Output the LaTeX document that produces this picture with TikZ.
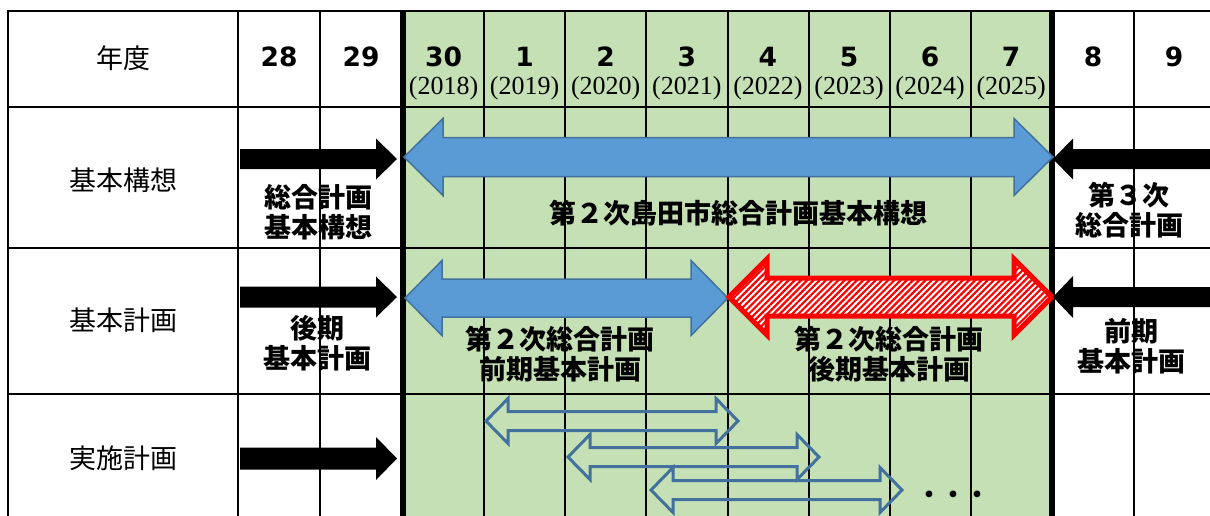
\documentclass[tikz,border=0pt]{standalone}
\usepackage{fontspec}
\newfontfamily\cjk{Noto Sans CJK JP}
\newfontfamily\numf{DejaVu Sans}
\newfontfamily\yrf{Liberation Serif}
\usetikzlibrary{patterns.meta}
\definecolor{cellgreen}{HTML}{C5E0B4}
\definecolor{arrblue}{HTML}{5B9BD5}
\definecolor{arredge}{HTML}{41719C}
% #1 style, #2 x start, #3 x tip, #4 y centre, #5 shaft half, #6 head half, #7 head length (signed)
\newcommand\OneArrow[7]{%
  \path[#1] ({#2},{#4-(#5)}) -- ({#3-(#7)},{#4-(#5)}) -- ({#3-(#7)},{#4-(#6)}) -- ({#3},{#4})
    -- ({#3-(#7)},{#4+(#6)}) -- ({#3-(#7)},{#4+(#5)}) -- ({#2},{#4+(#5)}) -- cycle;}
% #1 style, #2 left tip, #3 right tip, #4 y, #5 shaft half, #6 head half, #7 head length
\newcommand\TwoArrow[7]{%
  \path[#1] ({#2},{#4}) -- ({#2+(#7)},{#4-(#6)}) -- ({#2+(#7)},{#4-(#5)}) -- ({#3-(#7)},{#4-(#5)})
    -- ({#3-(#7)},{#4-(#6)}) -- ({#3},{#4}) -- ({#3-(#7)},{#4+(#6)}) -- ({#3-(#7)},{#4+(#5)})
    -- ({#2+(#7)},{#4+(#5)}) -- ({#2+(#7)},{#4+(#6)}) -- cycle;}
\begin{document}
\begin{tikzpicture}[x=1pt,y=-1pt,
  gridline/.style={line width=2pt,black},
  thickline/.style={line width=6pt,black},
  blackarr/.style={fill=black},
  bluearr/.style={fill=arrblue,draw=arredge,line width=1.5pt,line join=miter},
  redarr/.style={preaction={fill=white},pattern={Lines[angle=45,distance=4.4pt,line width=2.2pt]},pattern color=red,draw=red,line width=5pt,line join=miter},
  outarr/.style={draw=arredge,line width=3pt,line join=miter},
  rowlab/.style={font=\cjk\fontsize{27}{30}\selectfont,inner sep=0pt},
  boldlab/.style={font=\cjk\bfseries\fontsize{27}{30}\selectfont,align=center,inner sep=0pt},
  yearnum/.style={font=\numf\bfseries\fontsize{26.5}{26.5}\selectfont,inner sep=0pt},
  yearwest/.style={font=\yrf\fontsize{26}{26}\selectfont,inner sep=0pt}]
\useasboundingbox (0,0) rectangle (1210,515);
\clip (0,0) rectangle (1210,515);
\fill[white] (0,0) rectangle (1210,515);
% green band
\fill[cellgreen] (403,11) rectangle (1052,530);
% grid
\foreach \x in {8,238,320,484.1,565.2,646.4,727.5,808.6,889.7,970.8,1134,1215}
  \draw[gridline] (\x,10) -- (\x,530);
\foreach \y in {11,107,248,394}
  \draw[gridline] (7,\y) -- (1220,\y);
\draw[thickline] (402.5,10) -- (402.5,530);
\draw[thickline] (1052,10) -- (1052,530);
% header
\node[rowlab] (hyear) at (123,58) {年度};
\node[yearnum] (h28) at (279,57) {28};
\node[yearnum] (h29) at (361,57) {29};
\foreach \i/\n/\yr in {0/30/2018,1/1/2019,2/2/2020,3/3/2021,4/4/2022,5/5/2023,6/6/2024,7/7/2025}{
  \node[yearnum] (hn\i) at (443.5+81.1*\i,57) {\n};
  \node[yearwest] (hw\i) at (443.5+81.1*\i,88) {(\yr)};
}
\node[yearnum] (h8) at (1093,57) {8};
\node[yearnum] (h9) at (1174,57) {9};
% row labels
\node[rowlab] (r1) at (123,180) {基本構想};
\node[rowlab] (r2) at (123,320) {基本計画};
\node[rowlab] (r3) at (123,458) {実施計画};
% row 2 arrows
\OneArrow{blackarr}{240}{397}{159}{10}{20.5}{21}
\TwoArrow{bluearr}{404}{1053}{157}{19.5}{38.5}{39}
\OneArrow{blackarr}{1215}{1053}{159}{10}{20.5}{-20}
% row 3 arrows
\OneArrow{blackarr}{240}{397}{297}{10.5}{20.5}{21}
\TwoArrow{bluearr}{405}{728}{298}{19}{37.5}{37}
\TwoArrow{redarr}{729}{1052}{297}{19}{38}{38}
\OneArrow{blackarr}{1215}{1053}{297}{10}{21}{-20}
% row 4 arrows
\OneArrow{blackarr}{240}{397}{458.5}{11}{21.5}{21}
\TwoArrow{outarr}{486}{738}{421}{9.5}{22.5}{22}
\TwoArrow{outarr}{568}{819}{457}{9.5}{22.5}{22}
\TwoArrow{outarr}{651}{902}{490}{9.5}{22.5}{22}
% labels
\node[boldlab] (t1) at (318,212) {総合計画\\基本構想};
\node[boldlab] (t2) at (738,213) {第２次島田市総合計画基本構想};
\node[boldlab] (t3) at (1129,210) {第３次\\総合計画};
\node[boldlab] (t4) at (317,343) {後期\\基本計画};
\node[boldlab] (t5) at (560,354) {第２次総合計画\\前期基本計画};
\node[boldlab] (t6) at (889,354) {第２次総合計画\\後期基本計画};
\node[boldlab] (t7) at (1131,346) {前期\\基本計画};
\node[font=\cjk\bfseries\fontsize{24}{24}\selectfont,inner sep=0pt] (dots) at (953,497) {・・・};
\end{tikzpicture}
\end{document}
